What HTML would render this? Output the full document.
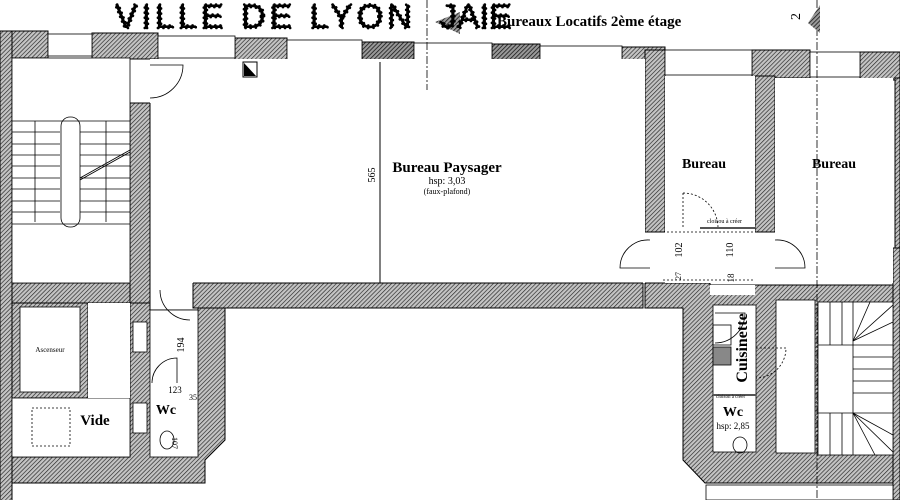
<!DOCTYPE html>
<html><head><meta charset="utf-8"><style>
html,body{margin:0;padding:0;background:#fff;width:900px;height:500px;overflow:hidden}
svg{display:block}
text{font-family:"Liberation Serif",serif;fill:#000}
</style></head><body>
<svg width="900" height="500" viewBox="0 0 900 500" xmlns="http://www.w3.org/2000/svg">
<defs>
<pattern id="h" width="3" height="3" patternUnits="userSpaceOnUse" patternTransform="rotate(45)">
<rect width="3" height="3" fill="#c4c4c4"/><line x1="0" y1="0" x2="0" y2="3" stroke="#222" stroke-width="1.3"/>
</pattern>
<pattern id="hd" width="3" height="3" patternUnits="userSpaceOnUse" patternTransform="rotate(45)">
<rect width="3" height="3" fill="#999"/><line x1="0" y1="0" x2="0" y2="3" stroke="#111" stroke-width="1.5"/>
</pattern>
</defs>
<rect width="900" height="500" fill="#fff"/>
<g stroke="#000" stroke-width="1" fill="url(#h)">
<rect x="0" y="31" width="48" height="27"/>
<rect x="92" y="33" width="66" height="26"/>
<rect x="235" y="38" width="52" height="24"/>
<rect x="362" y="42" width="52" height="24" fill="url(#hd)"/>
<rect x="492" y="44" width="48" height="26" fill="url(#hd)"/>
<rect x="622" y="47" width="43" height="28"/>
<rect x="752" y="50" width="58" height="28"/>
<rect x="860" y="52" width="40" height="28"/>
<rect x="0" y="31" width="12" height="470"/>
<rect x="130" y="103" width="20" height="200"/>
<rect x="645" y="50" width="20" height="182"/>
<rect x="755" y="76" width="20" height="156"/>
<rect x="895" y="78" width="5" height="170"/>
<rect x="193" y="283" width="450" height="25"/>
<rect x="12" y="283" width="118" height="20"/>
<polygon points="130,303 150,303 150,310 198,310 198,308 225,308 225,440 205,460 205,483 12,483 12,457 130,457"/>
<rect x="12" y="303" width="76" height="95"/>
<polygon points="645,283 710,283 710,285 893,285 893,483 705,483 683,460 683,308 645,308"/>
<rect x="893" y="248" width="7" height="252"/>
</g>
<g fill="#fff" stroke="#000" stroke-width="0.8">
<rect x="48" y="34" width="44" height="22"/>
<rect x="158" y="36" width="77" height="22"/>
<rect x="287" y="40" width="75" height="22"/>
<rect x="414" y="43" width="78" height="22"/>
<rect x="540" y="46" width="82" height="22"/>
<rect x="665" y="50" width="87" height="25"/>
<rect x="810" y="52" width="50" height="25"/>
<rect x="290" y="62" width="17" height="18"/>
<rect x="12" y="58" width="118" height="225"/>
<rect x="150" y="59" width="495" height="224" stroke="none"/>
<rect x="20" y="307" width="60" height="85"/>
<rect x="12" y="398" width="118" height="59"/>
<rect x="88" y="303" width="42" height="95" stroke="none"/>
<rect x="150" y="310" width="48" height="147"/>
<rect x="665" y="76" width="90" height="207" stroke="none"/>
<rect x="775" y="78" width="118" height="205" stroke="none"/>
<rect x="710" y="285" width="45" height="10" stroke="none"/>
<rect x="713" y="305" width="43" height="147"/>
<rect x="776" y="300" width="39" height="153"/>
<rect x="818" y="302" width="75" height="153"/>
<rect x="15" y="485" width="190" height="15" stroke="none"/>
<rect x="706" y="485" width="187" height="15"/>
<rect x="133" y="322" width="14" height="30"/>
<rect x="133" y="403" width="14" height="30"/>
</g>
<g stroke="#000" stroke-width="1" fill="none">
<line x1="150" y1="283" x2="150" y2="103"/>
<line x1="193" y1="283" x2="643" y2="283"/>
<line x1="645" y1="232" x2="665" y2="232"/>
<line x1="755" y1="232" x2="775" y2="232"/>
<line x1="380" y1="62" x2="380" y2="283"/>
<g stroke-width="0.8">
<line x1="12" y1="121" x2="130" y2="121"/>
<line x1="12" y1="132" x2="60" y2="132"/><line x1="80" y1="132" x2="130" y2="132"/>
<line x1="12" y1="144" x2="60" y2="144"/><line x1="80" y1="144" x2="130" y2="144"/>
<line x1="12" y1="155" x2="60" y2="155"/><line x1="80" y1="155" x2="130" y2="155"/>
<line x1="12" y1="166" x2="60" y2="166"/><line x1="80" y1="166" x2="130" y2="166"/>
<line x1="12" y1="178" x2="60" y2="178"/><line x1="80" y1="178" x2="130" y2="178"/>
<line x1="12" y1="189" x2="60" y2="189"/><line x1="80" y1="189" x2="130" y2="189"/>
<line x1="12" y1="201" x2="60" y2="201"/><line x1="80" y1="201" x2="130" y2="201"/>
<line x1="12" y1="212" x2="60" y2="212"/><line x1="80" y1="212" x2="130" y2="212"/>
<line x1="12" y1="224" x2="130" y2="224"/>
<rect x="61" y="117" width="19" height="110" rx="9"/>
<line x1="80" y1="180" x2="130" y2="152"/><line x1="80" y1="178" x2="130" y2="150"/>
<line x1="35" y1="121" x2="35" y2="222"/><line x1="106" y1="121" x2="106" y2="222"/>
<path d="M150 65 h33 a33 33 0 0 1 -33 33"/>
<path d="M160 290 a30 30 0 0 0 30 30"/>
<path d="M152 383 a25 25 0 0 1 25 -25 v25"/>
<path d="M683 193 v35 M683 193 a35 35 0 0 1 35 35" stroke-dasharray="2 2"/>
<path d="M650 240 a28 28 0 0 0 -30 28 h30"/>
<path d="M775 240 a28 28 0 0 1 30 28 h-30"/>
<path d="M715 313 h30 a30 30 0 0 1 -30 30"/>
<path d="M756 348 h30 a30 30 0 0 1 -30 30" stroke-dasharray="2 2"/>
<line x1="853" y1="302" x2="853" y2="455"/>
<line x1="853" y1="345" x2="893" y2="345"/><line x1="853" y1="413" x2="893" y2="413"/>
<line x1="818" y1="345" x2="853" y2="345"/><line x1="818" y1="413" x2="853" y2="413"/>
<line x1="830" y1="302" x2="830" y2="345"/><line x1="842" y1="302" x2="842" y2="345"/>
<line x1="830" y1="413" x2="830" y2="455"/><line x1="842" y1="413" x2="842" y2="455"/>
<line x1="853" y1="341" x2="893" y2="305"/><line x1="853" y1="341" x2="870" y2="302"/><line x1="853" y1="341" x2="893" y2="322"/>
<line x1="853" y1="413" x2="893" y2="452"/><line x1="853" y1="413" x2="875" y2="455"/><line x1="853" y1="413" x2="893" y2="435"/>
<line x1="853" y1="357" x2="893" y2="357"/><line x1="853" y1="369" x2="893" y2="369"/><line x1="853" y1="381" x2="893" y2="381"/><line x1="853" y1="393" x2="893" y2="393"/>
<line x1="817" y1="0" x2="817" y2="500" stroke-dasharray="8 2 2 2"/>
<line x1="427" y1="0" x2="427" y2="90" stroke-dasharray="8 2 2 2"/>
<rect x="713" y="325" width="18" height="20"/><rect x="713" y="347" width="18" height="18" fill="#888"/>
<ellipse cx="740" cy="445" rx="7" ry="8"/>
<ellipse cx="167" cy="440" rx="7" ry="9"/>
<rect x="32" y="408" width="38" height="38" stroke-dasharray="2 2"/>
<line x1="713" y1="395" x2="756" y2="395" stroke-width="2" stroke="#555"/>
<line x1="755" y1="228" x2="700" y2="228" stroke-width="2" stroke="#555"/>
<path d="M663 232 h92 M663 280 h92" stroke-dasharray="2 2"/>
</g>
</g>
<path d="M243 62 h14 v15 h-14z" fill="#fff" stroke="#000"/><path d="M244 63 v13 h12z" fill="#000"/>
<polygon points="460,12 435,22 460,34" fill="url(#hd)"/>
<polygon points="820,5 808,23 820,33" fill="url(#hd)"/>
<text x="115" y="28" font-size="34" fill="#fff" stroke="#000" stroke-width="2.6" stroke-linecap="round" stroke-dasharray="0.1 5" letter-spacing="4" style="font-family:'Liberation Sans',sans-serif">VILLE DE LYON</text>
<text x="440" y="28" font-size="34" fill="#fff" stroke="#000" stroke-width="2.6" stroke-linecap="round" stroke-dasharray="0.1 5" style="font-family:'Liberation Sans',sans-serif">JAIE</text>
<text x="497" y="26" font-size="15" font-weight="bold">Bureaux Locatifs 2ème étage</text>
<text x="447" y="172" font-size="15" font-weight="bold" text-anchor="middle">Bureau Paysager</text>
<text x="447" y="184" font-size="10" text-anchor="middle">hsp: 3,03</text>
<text x="447" y="194" font-size="8" text-anchor="middle">(faux-plafond)</text>
<text x="704" y="168" font-size="14" font-weight="bold" text-anchor="middle">Bureau</text>
<text x="834" y="168" font-size="14" font-weight="bold" text-anchor="middle">Bureau</text>
<text transform="translate(375,175) rotate(-90)" font-size="10" text-anchor="middle">565</text>
<text x="50" y="352" font-size="7" text-anchor="middle">Ascenseur</text>
<text x="95" y="425" font-size="15" font-weight="bold" text-anchor="middle">Vide</text>
<text x="166" y="414" font-size="14" font-weight="bold" text-anchor="middle">Wc</text>
<text transform="translate(184,345) rotate(-90)" font-size="10" text-anchor="middle">194</text>
<text x="175" y="393" font-size="9" text-anchor="middle">123</text>
<text x="193" y="400" font-size="8" text-anchor="middle">35</text>
<text transform="translate(172,437) rotate(90)" font-size="8">107</text>
<text transform="translate(747,348) rotate(-90)" font-size="16" font-weight="bold" text-anchor="middle">Cuisinette</text>
<text x="733" y="416" font-size="14" font-weight="bold" text-anchor="middle">Wc</text>
<text x="733" y="429" font-size="9" text-anchor="middle">hsp: 2,85</text>
<text transform="translate(682,250) rotate(-90)" font-size="10" text-anchor="middle">102</text>
<text transform="translate(733,250) rotate(-90)" font-size="10" text-anchor="middle">110</text>
<text transform="translate(734,278) rotate(-90)" font-size="9" text-anchor="middle">18</text>
<text transform="translate(681,276) rotate(-90)" font-size="8" text-anchor="middle">27</text>
<text x="707" y="223" font-size="6">cloisou à créer</text>
<text x="716" y="398" font-size="5">cloison à créer</text>
<text transform="translate(800,20) rotate(-90)" font-size="14">2</text>
</svg>
</body></html>
